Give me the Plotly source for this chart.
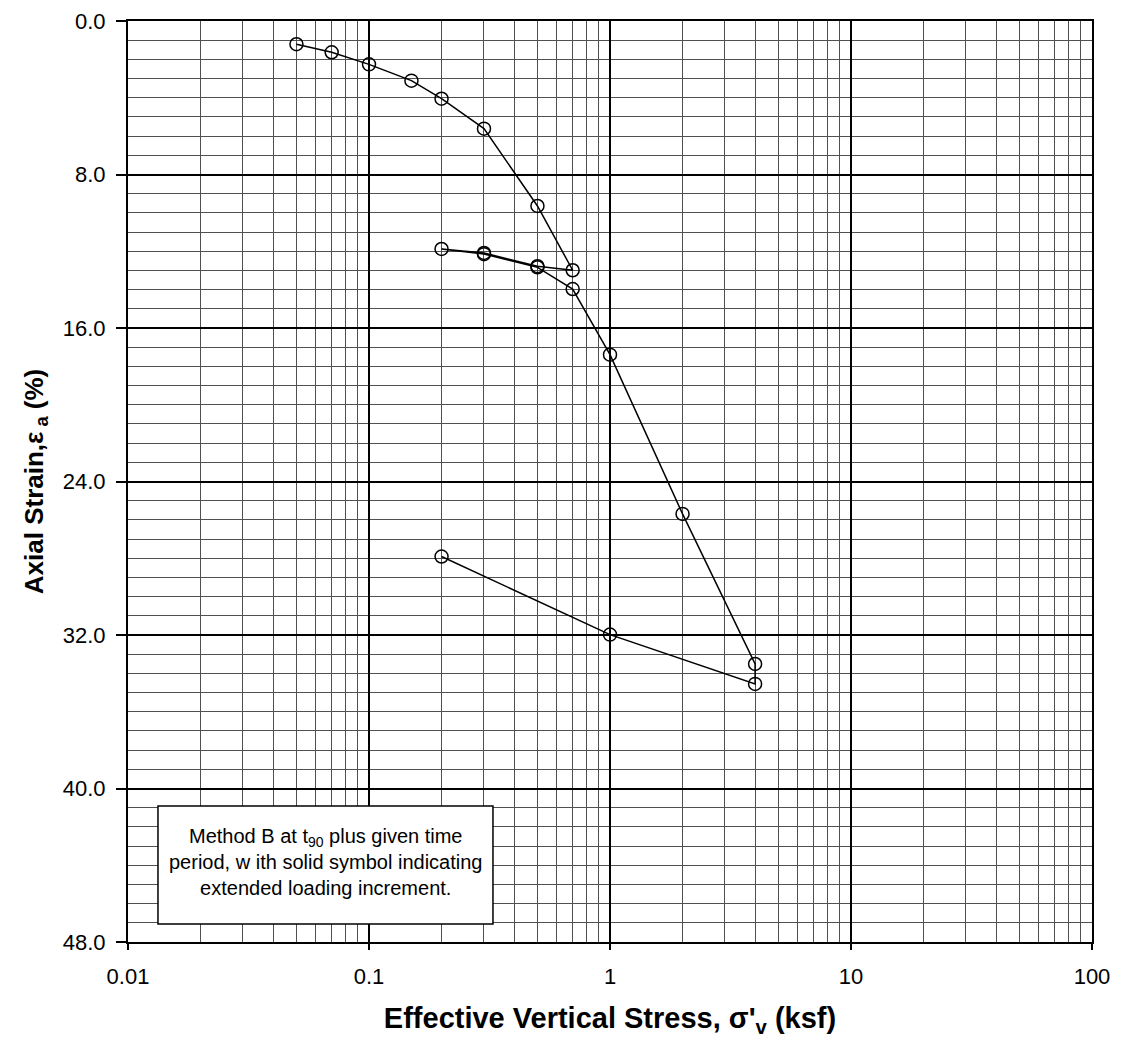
import plotly.graph_objects as go

# Data
stress_ksf = [0.05, 0.07, 0.1, 0.15, 0.2, 0.3, 0.5, 0.7, 0.5, 0.3, 0.2, 0.3, 0.5, 0.7, 1.0, 2.0, 4.0, 4.0, 1.0, 0.2]
axial_strain_pct = [1.21, 1.63, 2.26, 3.11, 4.05, 5.61, 9.64, 12.99, 12.78, 12.09, 11.88, 12.15, 12.84, 13.97,
                    17.39, 25.69, 33.51, 34.55, 31.98, 27.91]

x_tickvals = [0.01, 0.1, 1, 10, 100]
x_ticktext = ["0.01", "0.1", "1", "10", "100"]
y_tickvals = [0, 8, 16, 24, 32, 40, 48]
y_ticktext = ["0.0", "8.0", "16.0", "24.0", "32.0", "40.0", "48.0"]
x_minor = [k * 10 ** n for n in range(-2, 2) for k in range(2, 10)]

note_text = ("Method B at t<sub>90</sub> plus given time<br>"
             "period, w ith solid symbol indicating<br>"
             "extended loading increment.")

FONT = "Liberation Sans, Arial, sans-serif"

fig = go.Figure()
fig.add_trace(go.Scatter(
    x=stress_ksf, y=axial_strain_pct, mode="lines+markers",
    line=dict(color="black", width=1.5),
    marker=dict(symbol="circle-open", size=13, color="black", line=dict(width=1.5)),
    showlegend=False, cliponaxis=False,
))

fig.update_xaxes(
    type="log", range=[-2, 2],
    tickmode="array", tickvals=x_tickvals, ticktext=x_ticktext,
    ticks="outside", ticklen=6, tickwidth=2, tickcolor="black",
    ticklabelstandoff=8,
    showgrid=True, gridcolor="black", gridwidth=2,
    showline=True, linecolor="black", linewidth=2, mirror=True,
    minor=dict(tickmode="array", tickvals=x_minor, showgrid=True, gridcolor="#505050", gridwidth=1, ticks=""),
    tickfont=dict(family=FONT, size=22, color="black"),
    title=dict(text="<b>Effective Vertical Stress, σ'<sub>v</sub> (ksf)</b>",
               font=dict(family=FONT, size=29, color="black"), standoff=30),
    zeroline=False,
)
fig.update_yaxes(
    range=[48, 0],
    tickmode="array", tickvals=y_tickvals, ticktext=y_ticktext,
    ticks="outside", ticklen=10, tickwidth=2, tickcolor="black",
    ticklabelstandoff=6,
    showgrid=True, gridcolor="black", gridwidth=2,
    showline=True, linecolor="black", linewidth=2, mirror=True,
    minor=dict(dtick=1, showgrid=True, gridcolor="#505050", gridwidth=1, ticks=""),
    tickfont=dict(family=FONT, size=22, color="black"),
    title=dict(text="<b>Axial Strain,ε<sub> a</sub> (%)</b>",
               font=dict(family=FONT, size=26, color="black"), standoff=12),
    zeroline=False,
)

# Note box
fig.add_shape(type="rect", xref="paper", yref="paper",
              x0=0.0311, x1=0.3786, y0=0.0195, y1=0.1477,
              line=dict(color="black", width=1.5), fillcolor="white", layer="above")
fig.add_annotation(xref="paper", yref="paper", x=0.2049, y=0.0869,
                   xanchor="center", yanchor="middle",
                   text=note_text, showarrow=False, align="center",
                   font=dict(family=FONT, size=20, color="black"))

# Page body has an 8px margin, so the figure is sized/offset to put the plot area at
# x 128..1092, y 21..942 in the window.
fig.update_layout(
    width=1106, height=1030,
    margin=dict(l=120, r=22, t=13, b=96, autoexpand=False),
    plot_bgcolor="white", paper_bgcolor="white",
)

fig.write_html("out.html")
